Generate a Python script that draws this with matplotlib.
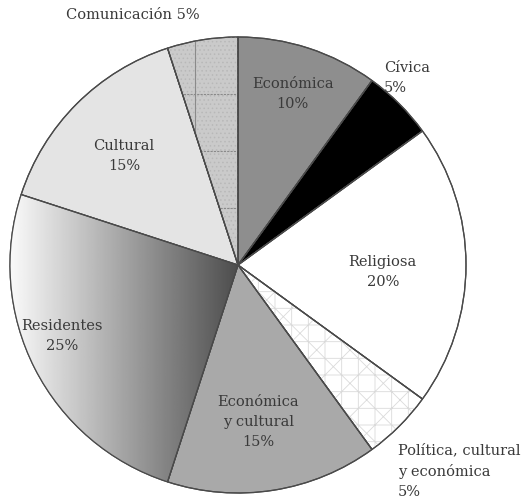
import numpy as np
import matplotlib
matplotlib.use("Agg")
import matplotlib.pyplot as plt
from matplotlib.patches import Wedge

categorias = ["Económica", "Cívica", "Religiosa", "Política, cultural\ny económica",
              "Económica\ny cultural", "Residentes", "Cultural", "Comunicación"]
porcentajes = [10, 5, 20, 5, 15, 25, 15, 5]
colores = ["#8e8e8e", "#000000", "#ffffff", "#ffffff",
           "#a9a9a9", "#ffffff", "#e4e4e4", "#cacaca"]

# posiciones de las etiquetas (unidades del radio)
pos_etiquetas = [(0.24, 0.75), (0.64, 0.82), (0.635, -0.03), (0.70, -0.905),
                 (0.09, -0.69), (-0.77, -0.31), (-0.50, 0.48), (-0.46, 1.096)]
alineacion = ["center", "left", "center", "left", "center", "center", "center", "center"]

plt.rcParams["font.family"] = ["DejaVu Serif"]
plt.rcParams["hatch.linewidth"] = 0.6

fig = plt.figure(figsize=(5.32, 4.98), dpi=100)
ax = fig.add_axes([0, 0, 1, 1])
cx, cy, r = 238, 265, 228

wedges, _ = ax.pie(porcentajes, colors=colores, startangle=90, counterclock=False,
                   radius=1, wedgeprops=dict(edgecolor="#4a4a4a", linewidth=0.9))

# Residentes: degradado horizontal
w_res = wedges[5]
grad = np.linspace(0.98, 0.30, 256).reshape(1, -1)
img = ax.imshow(grad, cmap="gray", vmin=0, vmax=1, extent=(-1.0, 0.0, -1.0, 0.35),
                aspect="auto", zorder=1.5)
img.set_clip_path(w_res)

ax.set_xlim(-cx / r, (532 - cx) / r)
ax.set_ylim(-(498 - cy) / r, cy / r)
ax.set_aspect("equal")
ax.axis("off")

# Política: trama clara
w_pol = wedges[3]
trama = Wedge((0, 0), 1, w_pol.theta1, w_pol.theta2, facecolor="none",
              edgecolor="#dadada", hatch="x+", linewidth=0, zorder=1.6)
ax.add_patch(trama)

# Comunicación: cuadrícula
w_com = wedges[7]
for y in np.arange(0.25, 1.0, 0.25):
    ln = ax.axhline(y, color="#8a8a8a", lw=0.8, ls=(0, (2, 1)), zorder=1.7)
    ln.set_clip_path(w_com)
ln = ax.axvline(-0.19, color="#8a8a8a", lw=0.8, zorder=1.7)
ln.set_clip_path(w_com)
punteado = Wedge((0, 0), 1, w_com.theta1, w_com.theta2, facecolor="none",
                 edgecolor="#b8b8b8", hatch="....", linewidth=0, zorder=1.6)
ax.add_patch(punteado)

# bordes encima de las tramas
for w in wedges:
    borde = Wedge((0, 0), 1, w.theta1, w.theta2, facecolor="none",
                  edgecolor="#4a4a4a", linewidth=0.9, zorder=2)
    ax.add_patch(borde)

for cat, pct, (x, y), ha in zip(categorias, porcentajes, pos_etiquetas, alineacion):
    if cat == "Comunicación":
        texto = f"{cat} {pct}%"
    else:
        texto = f"{cat}\n{pct}%"
    ax.text(x, y, texto, ha=ha, va="center", fontsize=10.5, color="#3a3a3a",
            linespacing=1.55, zorder=3)

fig.savefig("out.png", dpi=100)
